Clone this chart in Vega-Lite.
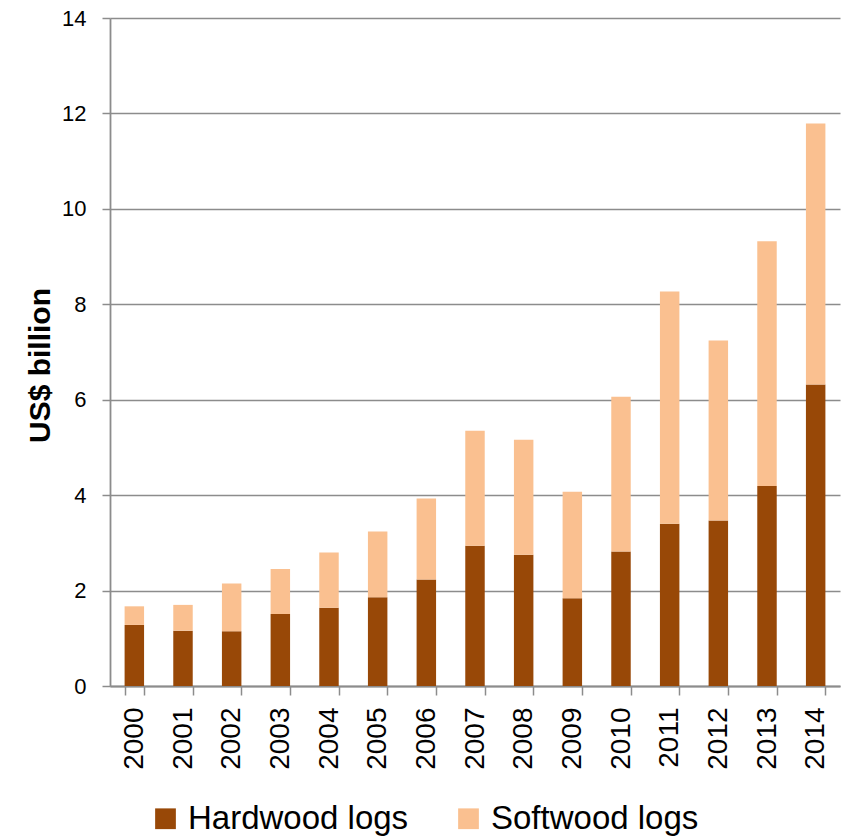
{
  "$schema": "https://vega.github.io/schema/vega-lite/v6.json",
  "autosize": {"type": "none"},
  "padding": {"left": 110, "top": 18, "right": 8, "bottom": 153},
  "width": 730,
  "height": 668,
  "data": {
    "values": [
      {"year": "2000", "type": "Hardwood logs", "value": 1.28},
      {"year": "2001", "type": "Hardwood logs", "value": 1.16},
      {"year": "2002", "type": "Hardwood logs", "value": 1.15},
      {"year": "2003", "type": "Hardwood logs", "value": 1.51},
      {"year": "2004", "type": "Hardwood logs", "value": 1.64},
      {"year": "2005", "type": "Hardwood logs", "value": 1.86},
      {"year": "2006", "type": "Hardwood logs", "value": 2.23},
      {"year": "2007", "type": "Hardwood logs", "value": 2.94},
      {"year": "2008", "type": "Hardwood logs", "value": 2.75},
      {"year": "2009", "type": "Hardwood logs", "value": 1.84},
      {"year": "2010", "type": "Hardwood logs", "value": 2.82},
      {"year": "2011", "type": "Hardwood logs", "value": 3.40},
      {"year": "2012", "type": "Hardwood logs", "value": 3.47},
      {"year": "2013", "type": "Hardwood logs", "value": 4.19},
      {"year": "2014", "type": "Hardwood logs", "value": 6.32},
      {"year": "2000", "type": "Softwood logs", "value": 0.39},
      {"year": "2001", "type": "Softwood logs", "value": 0.54},
      {"year": "2002", "type": "Softwood logs", "value": 1.00},
      {"year": "2003", "type": "Softwood logs", "value": 0.94},
      {"year": "2004", "type": "Softwood logs", "value": 1.16},
      {"year": "2005", "type": "Softwood logs", "value": 1.38},
      {"year": "2006", "type": "Softwood logs", "value": 1.70},
      {"year": "2007", "type": "Softwood logs", "value": 2.41},
      {"year": "2008", "type": "Softwood logs", "value": 2.41},
      {"year": "2009", "type": "Softwood logs", "value": 2.23},
      {"year": "2010", "type": "Softwood logs", "value": 3.24},
      {"year": "2011", "type": "Softwood logs", "value": 4.87},
      {"year": "2012", "type": "Softwood logs", "value": 3.77},
      {"year": "2013", "type": "Softwood logs", "value": 5.13},
      {"year": "2014", "type": "Softwood logs", "value": 5.47}
    ]
  },
  "mark": {"type": "bar"},
  "encoding": {
    "x": {
      "field": "year",
      "type": "nominal",
      "scale": {"paddingInner": 0.6, "paddingOuter": 0.3},
      "axis": {
        "title": null,
        "labelAngle": -90,
        "labelFontSize": 28,
        "labelPadding": 12,
        "tickSize": 9,
        "tickBand": "extent",
        "tickColor": "#8c8c8c",
        "tickWidth": 1.5,
        "domainColor": "#8c8c8c",
        "domainWidth": 1.8
      }
    },
    "y": {
      "field": "value",
      "type": "quantitative",
      "aggregate": "sum",
      "stack": "zero",
      "scale": {"domain": [0, 14], "nice": false},
      "axis": {
        "title": "US$ billion",
        "values": [0, 2, 4, 6, 8, 10, 12, 14],
        "labelFontSize": 22,
        "labelPadding": 16,
        "tickSize": 8,
        "tickColor": "#8c8c8c",
        "tickWidth": 1.5,
        "domainColor": "#8c8c8c",
        "domainWidth": 1.8,
        "grid": true,
        "gridColor": "#8c8c8c",
        "gridWidth": 1.5,
        "titleFontSize": 30,
        "titleFontWeight": "bold",
        "titleX": -61,
        "titleY": 347,
        "titleBaseline": "alphabetic",
        "titleAngle": 270
      }
    },
    "order": {"field": "type", "sort": "ascending"},
    "color": {
      "field": "type",
      "type": "nominal",
      "scale": {"domain": ["Hardwood logs", "Softwood logs"], "range": ["#984807", "#FAC090"]},
      "legend": {
        "title": null,
        "orient": "none",
        "legendX": 39,
        "legendY": 784,
        "direction": "horizontal",
        "columns": 2,
        "columnPadding": 43,
        "symbolType": "square",
        "symbolSize": 430,
        "symbolStrokeWidth": 0,
        "labelFontSize": 33,
        "labelOffset": 6,
        "labelLimit": 400
      }
    }
  },
  "config": {
    "font": "Liberation Sans",
    "view": {"stroke": null},
    "axis": {"labelColor": "#000000", "titleColor": "#000000"},
    "legend": {"labelColor": "#000000"}
  }
}
